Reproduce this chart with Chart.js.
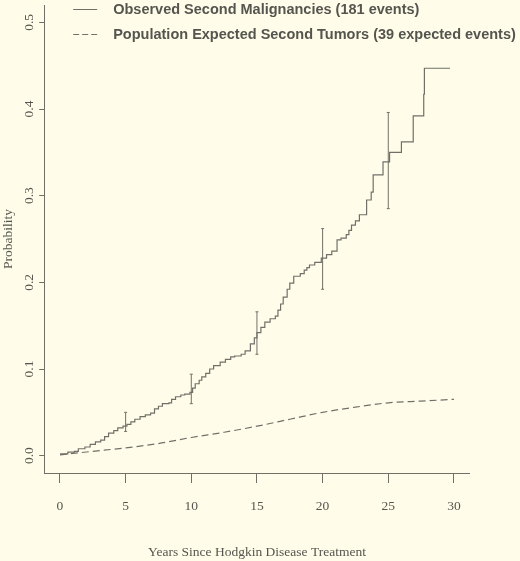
<!DOCTYPE html>
<html>
<head>
<meta charset="utf-8">
<title>Second malignancies after Hodgkin disease</title>
<script src="https://cdn.jsdelivr.net/npm/chart.js@4.4.1/dist/chart.umd.min.js"></script>
<style>
  html, body { margin: 0; padding: 0; background: #fffde9; }
  #chart { display: block; }
</style>
</head>
<body>
<canvas id="chart" width="520" height="561"></canvas>
<script>
// observed cumulative incidence (step curve)
var obsYears = [0, 0.6, 1.1, 1.4, 1.9, 2.3, 2.7, 3.1, 3.4, 3.7, 4.1, 4.4, 4.8, 5.1, 5.4, 5.7,
  6.1, 6.5, 6.9, 7.2, 7.5, 7.8, 8.3, 8.5, 8.8, 9.2, 9.5, 9.9, 10.1, 10.3, 10.6, 10.8,
  11.1, 11.4, 11.7, 12.2, 12.6, 13.0, 13.3, 13.8, 14.1, 14.5, 14.8, 15.0, 15.3, 15.6,
  16.0, 16.4, 16.6, 16.8, 17.0, 17.3, 17.5, 17.8, 18.3, 18.6, 18.8, 19.0, 19.4, 19.9,
  20.3, 20.7, 21.1, 21.4, 21.8, 22.0, 22.2, 22.5, 22.8, 23.35, 23.7, 23.85, 24.6, 25.1,
  26.0, 26.9, 27.7, 27.75, 29.7];
var obsProb = [0.002, 0.004, 0.005, 0.008, 0.010, 0.013, 0.016, 0.018, 0.022, 0.026, 0.029, 0.032, 0.034, 0.036, 0.039, 0.042,
  0.045, 0.047, 0.049, 0.054, 0.057, 0.060, 0.061, 0.065, 0.068, 0.070, 0.071, 0.073, 0.078, 0.083, 0.087, 0.091,
  0.095, 0.100, 0.104, 0.108, 0.111, 0.114, 0.115, 0.117, 0.121, 0.129, 0.136, 0.142, 0.148, 0.154,
  0.158, 0.161, 0.168, 0.175, 0.183, 0.192, 0.199, 0.207, 0.210, 0.214, 0.217, 0.220, 0.223, 0.228,
  0.232, 0.236, 0.249, 0.251, 0.255, 0.260, 0.266, 0.271, 0.278, 0.295, 0.304, 0.324, 0.339, 0.350,
  0.362, 0.392, 0.417, 0.447, 0.447];

// expected from population rates
var expYears = [0, 2.5, 5, 7.5, 10, 12.5, 15, 17.5, 20, 22.5, 25, 27.5, 30];
var expProb = [0.001, 0.005, 0.009, 0.014, 0.021, 0.027, 0.034, 0.042, 0.050, 0.056, 0.061, 0.063, 0.065];

// confidence bars on the observed curve
var ciYears = [5, 10, 15, 20, 25];
var ciLow = [0.028, 0.060, 0.117, 0.192, 0.285];
var ciHigh = [0.050, 0.094, 0.166, 0.262, 0.396];

var xTicks = [0, 5, 10, 15, 20, 25, 30];
var yTicks = [0, 0.1, 0.2, 0.3, 0.4, 0.5];
var legendLabels = ['Observed Second Malignancies (181 events)',
  'Population Expected Second Tumors (39 expected events)'];

var ink = '#707069';
var textInk = '#55554f';

function points(xs, ys) {
  return xs.map(function(x, i) { return {x: x, y: ys[i]}; });
}

var datasets = [{
  label: legendLabels[0],
  data: points(obsYears, obsProb),
  stepped: 'before',
  borderColor: ink,
  borderWidth: 1.2,
  pointRadius: 0
}, {
  label: legendLabels[1],
  data: points(expYears, expProb),
  cubicInterpolationMode: 'monotone',
  borderDash: [7, 4],
  borderColor: ink,
  borderWidth: 1.2,
  pointRadius: 0
}];

ciYears.forEach(function(yr, i) {
  datasets.push({
    data: [{x: yr, y: ciLow[i]}, {x: yr, y: ciHigh[i]}],
    borderColor: ink,
    borderWidth: 1,
    pointStyle: 'line',
    pointRadius: 1.5,
    pointBorderColor: ink,
    pointBorderWidth: 1
  });
});

// legend drawn inside the plot, top left, like the original figure
var lineLegend = {
  id: 'lineLegend',
  afterDraw: function(chart) {
    var ctx = chart.ctx;
    var x0 = chart.chartArea.left + 29;
    ctx.save();
    ctx.font = 'bold 14.5px "Liberation Sans", Arial, sans-serif';
    ctx.textBaseline = 'middle';
    ctx.textAlign = 'left';
    chart.data.datasets.forEach(function(ds, i) {
      if (!ds.label) return;
      var y = 9.5 + i * 25;
      ctx.strokeStyle = ds.borderColor;
      ctx.lineWidth = 1;
      ctx.setLineDash(ds.borderDash ? [6, 3] : []);
      ctx.beginPath();
      ctx.moveTo(x0, y);
      ctx.lineTo(x0 + 24, y);
      ctx.stroke();
      ctx.fillStyle = textInk;
      ctx.fillText(ds.label, x0 + 40, y);
    });
    ctx.restore();
  }
};

Chart.defaults.font.family = '"Liberation Serif", "Times New Roman", serif';
Chart.defaults.color = textInk;

new Chart('chart', {
  type: 'line',
  data: { datasets: datasets },
  options: {
    responsive: false,
    animation: false,
    layout: { padding: { top: 2, right: 50.3, bottom: 0, left: 0 } },
    plugins: {
      legend: { display: false },
      tooltip: { enabled: false }
    },
    scales: {
      x: {
        type: 'linear',
        min: -1.2,
        max: 31.2,
        afterBuildTicks: function(scale) {
          scale.ticks = xTicks.map(function(v) { return {value: v}; });
        },
        afterFit: function(scale) {
          scale.height = 88;
        },
        grid: { drawOnChartArea: false, tickLength: 10, tickColor: ink },
        border: { color: ink, width: 1 },
        ticks: { padding: 15, font: { size: 13.5 }, color: textInk },
        title: {
          display: true,
          text: 'Years Since Hodgkin Disease Treatment',
          font: { size: 13.5 },
          color: textInk,
          padding: { top: 0, bottom: 0 }
        }
      },
      y: {
        type: 'linear',
        min: -0.02,
        max: 0.52,
        afterBuildTicks: function(scale) {
          scale.ticks = yTicks.map(function(v) { return {value: v}; });
        },
        afterFit: function(scale) {
          scale.width = 44.2;
          scale.paddingTop = 0;
          scale.paddingBottom = 0;
        },
        grid: { drawOnChartArea: false, tickLength: 5, tickColor: ink },
        border: { color: ink, width: 1 },
        ticks: {
          minRotation: 90,
          maxRotation: 90,
          crossAlign: 'center',
          padding: 1,
          font: { size: 13.5 },
          color: textInk,
          callback: function(v) { return v.toFixed(1); }
        },
        title: {
          display: true,
          text: 'Probability',
          font: { size: 13.5 },
          color: textInk,
          padding: { top: 0, bottom: 0 }
        }
      }
    }
  },
  plugins: [lineLegend]
});
</script>
</body>
</html>
